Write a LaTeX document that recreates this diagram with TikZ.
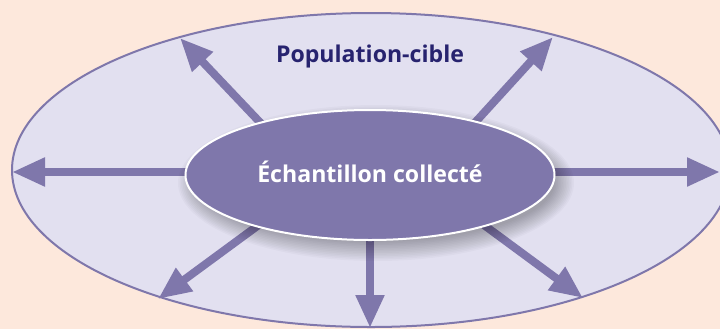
\documentclass[tikz,border=0pt]{standalone}
\usepackage{fontspec}
\setmainfont{Open Sans}[Ligatures=NoCommon]
\usetikzlibrary{arrows.meta,shapes.geometric}

\definecolor{bgpeach}{HTML}{FDE8DC}
\definecolor{lavfill}{HTML}{E2E0F0}
\definecolor{purp}{HTML}{7F77AB}
\definecolor{navy}{HTML}{27236F}

\tikzset{
  outerell/.style={ellipse, draw=purp, line width=2bp, fill=lavfill,
    minimum width=718bp, minimum height=314bp, inner sep=0pt},
  innerell/.style={ellipse, draw=white, line width=2bp, fill=purp,
    minimum width=369bp, minimum height=130bp, inner sep=0pt},
  softshade/.style={fill=black, fill opacity=0.022},
  ray/.style={draw=purp, line width=8bp, -{Triangle[length=33bp,width=27bp]}},
  title/.style={text=navy, font=\bfseries\fontsize{23.2}{27}\selectfont},
  label/.style={text=white, font=\bfseries\fontsize{23.2}{27}\selectfont},
}

\begin{document}
\begin{tikzpicture}[x=1bp,y=-1bp]
  % page background
  \fill[bgpeach] (0,0) rectangle (720,329);
  \useasboundingbox (0,0) rectangle (720,329);

  % target population
  \node[outerell] (pop) at (371,170) {};
  \node[title] (poptxt) at (370,56) {Population-cible};

  % ray ends: tails hidden under the sample, tips on the population border
  \coordinate (tL) at (200,172);   \coordinate (hL) at (12,172);
  \coordinate (tR) at (540,172);   \coordinate (hR) at (720,172);
  \coordinate (tB) at (370,220);   \coordinate (hB) at (370,328);
  \coordinate (tTL) at (290,154);  \coordinate (hTL) at (180,38);
  \coordinate (tTR) at (450,150);  \coordinate (hTR) at (553,37);
  \coordinate (tBL) at (290,202);  \coordinate (hBL) at (158,299);
  \coordinate (tBR) at (450,200);  \coordinate (hBR) at (583,298);

  \foreach \r in {L,R,B,TL,TR,BL,BR}
    \draw[ray] (t\r) -- (h\r);

  % soft drop shadow of the sample: stacked translucent ellipses
  \foreach \i in {0,...,12}
    \fill[softshade] (376,183) ellipse ({186+12-\i*1.6} and {66+12-\i*1.6});

  % collected sample
  \node[innerell] (ech) at (370,175) {};
  \node[label] (echtxt) at (370,172) {Échantillon collecté};
\end{tikzpicture}
\end{document}
